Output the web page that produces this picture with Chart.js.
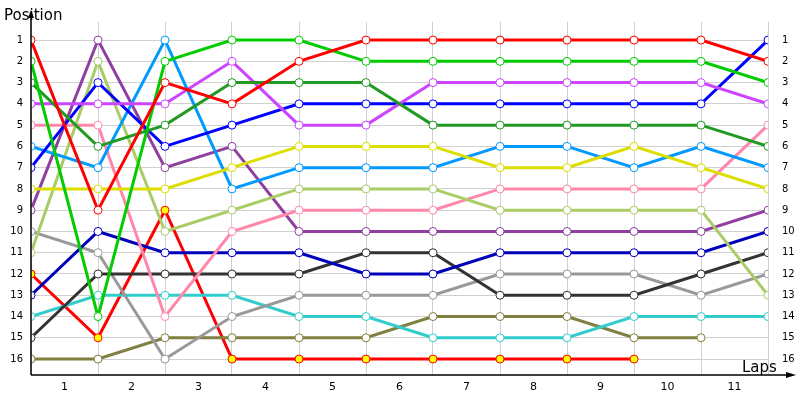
<!DOCTYPE html>
<html>
<head>
<script src="https://cdn.jsdelivr.net/npm/chart.js@4"></script>
<style>
  body { margin: 0; background: #fff; }
  #wrap { width: 800px; height: 400px; }
</style>
</head>
<body>
<div id="wrap"><canvas id="myChart"></canvas></div>
<script>
// lap boundaries 0..11, lap labels sit between them
const laps = ['1', '2', '3', '4', '5', '6', '7', '8', '9', '10', '11'];
const positions = [1, 2, 3, 4, 5, 6, 7, 8, 9, 10, 11, 12, 13, 14, 15, 16];

const red        = [1, 9, 3, 4, 2, 1, 1, 1, 1, 1, 1, 2];
const green      = [2, 14, 2, 1, 1, 2, 2, 2, 2, 2, 2, 3];
const darkGreen  = [3, 6, 5, 3, 3, 3, 5, 5, 5, 5, 5, 6];
const magenta    = [4, 4, 4, 2, 5, 5, 3, 3, 3, 3, 3, 4];
const blue       = [7, 3, 6, 5, 4, 4, 4, 4, 4, 4, 4, 1];
const yellow     = [8, 8, 8, 7, 6, 6, 6, 7, 7, 6, 7, 8];
const skyBlue    = [6, 7, 1, 8, 7, 7, 7, 6, 6, 7, 6, 7];
const lightGreen = [11, 2, 10, 9, 8, 8, 8, 9, 9, 9, 9, 13];
const pink       = [5, 5, 14, 10, 9, 9, 9, 8, 8, 8, 8, 5];
const purple     = [9, 1, 7, 6, 10, 10, 10, 10, 10, 10, 10, 9];
const navy       = [13, 10, 11, 11, 11, 12, 12, 11, 11, 11, 11, 10];
const dark       = [15, 12, 12, 12, 12, 11, 11, 13, 13, 13, 12, 11];
const gray       = [10, 11, 16, 14, 13, 13, 13, 12, 12, 12, 13, 12];
const cyan       = [14, 13, 13, 13, 14, 14, 15, 15, 15, 14, 14, 14];
const olive      = [16, 16, 15, 15, 15, 15, 14, 14, 14, 15, 15, null];
const redOut     = [12, 15, 9, 16, 16, 16, 16, 16, 16, 16, null, null];

const series = [
  [red, '#ff0000', '#ffffff'],
  [green, '#00cc00', '#ffffff'],
  [darkGreen, '#229922', '#ffffff'],
  [magenta, '#cc44ff', '#ffffff'],
  [blue, '#0000ff', '#ffffff'],
  [yellow, '#dddd00', '#ffffff'],
  [skyBlue, '#0099ff', '#ffffff'],
  [lightGreen, '#aacc66', '#ffffff'],
  [pink, '#ff88aa', '#ffffff'],
  [purple, '#8f3f9f', '#ffffff'],
  [navy, '#0000bb', '#ffffff'],
  [dark, '#333333', '#ffffff'],
  [gray, '#999999', '#ffffff'],
  [cyan, '#33cccc', '#ffffff'],
  [olive, '#808040', '#ffffff'],
  [redOut, '#ff0000', '#ffff00']
];

const datasets = series.map(function (s) {
  return {
    data: s[0].map(function (v, i) { return { x: i, y: v }; }),
    borderColor: s[1],
    backgroundColor: s[2],
    pointBackgroundColor: s[2],
    pointBorderColor: s[1],
    pointBorderWidth: 1,
    borderWidth: 3,
    radius: 4,
    tension: 0,
    spanGaps: false
  };
});

const intTicks = function (scale) {
  scale.ticks = positions.map(function (p) { return { value: p }; });
};

// axis arrows, titles and lap labels
const decor = {
  id: 'decor',
  afterDraw: function (chart) {
    const c = chart.ctx;
    const xs = chart.scales.x;
    const ys = chart.scales.y;
    const left = xs.getPixelForValue(0);
    const bottom = ys.getPixelForValue(16.75);
    c.save();
    c.strokeStyle = '#000';
    c.fillStyle = '#000';
    c.lineWidth = 1.5;
    c.beginPath();
    c.moveTo(left, bottom);
    c.lineTo(left, 14);
    c.moveTo(left, bottom);
    c.lineTo(792, bottom);
    c.stroke();
    c.beginPath();
    c.moveTo(left, 10); c.lineTo(left - 3, 18); c.lineTo(left + 3, 18);
    c.fill();
    c.beginPath();
    c.moveTo(796, bottom); c.lineTo(786, bottom - 3); c.lineTo(786, bottom + 3);
    c.fill();
    c.font = '15px "DejaVu Sans"';
    c.textBaseline = 'alphabetic';
    c.textAlign = 'left';
    c.fillText('Position', 4, 20);
    c.fillText('Laps', 742, 372);
    c.font = '11px "DejaVu Sans"';
    c.textAlign = 'center';
    c.textBaseline = 'middle';
    laps.forEach(function (l, i) {
      c.fillText(l, xs.getPixelForValue(i + 0.5), 387);
    });
    c.restore();
  }
};

new Chart(document.getElementById('myChart'), {
  type: 'line',
  data: { datasets: datasets },
  plugins: [decor],
  options: {
    responsive: true,
    maintainAspectRatio: false,
    animation: false,
    layout: { padding: { top: 22, left: 0, right: 0, bottom: 0 } },
    plugins: { legend: { display: false }, tooltip: { enabled: false } },
    scales: {
      x: {
        type: 'linear',
        min: 0,
        max: 11,
        afterBuildTicks: function (scale) {
          scale.ticks = laps.map(function (l, i) { return { value: i }; }).concat([{ value: 11 }]);
        },
        afterFit: function (scale) { scale.height = 25; },
        ticks: { display: false },
        grid: { color: '#d0d0d0', drawTicks: false },
        border: { display: false }
      },
      y: {
        type: 'linear',
        reverse: true,
        min: 0.15,
        max: 16.75,
        afterBuildTicks: intTicks,
        afterFit: function (scale) { scale.width = 31; },
        ticks: { color: '#000', font: { family: 'DejaVu Sans', size: 10 }, padding: 8 },
        grid: { color: '#d0d0d0', drawTicks: false },
        border: { display: false }
      },
      y2: {
        type: 'linear',
        position: 'right',
        reverse: true,
        min: 0.15,
        max: 16.75,
        afterBuildTicks: intTicks,
        afterFit: function (scale) { scale.width = 32; },
        ticks: { color: '#000', font: { family: 'DejaVu Sans', size: 10 }, padding: 6 },
        grid: { display: false },
        border: { display: false }
      }
    }
  }
});
</script>
</body>
</html>
